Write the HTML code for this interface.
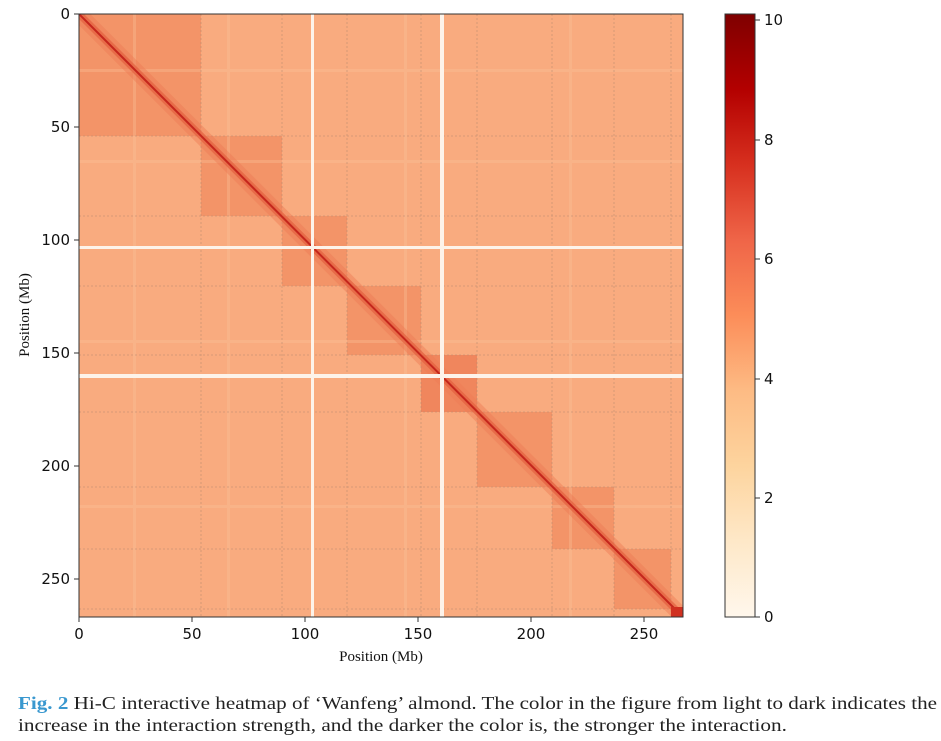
<!DOCTYPE html>
<html><head><meta charset="utf-8"><style>
html,body{margin:0;padding:0;background:#fff;}
svg{display:block;}
</style></head><body>
<svg width="941" height="741" xmlns="http://www.w3.org/2000/svg" font-family="DejaVu Sans, sans-serif">
<defs>
<linearGradient id="cb" x1="0" y1="1" x2="0" y2="0">
<stop offset="0" stop-color="#fff7ec"/>
<stop offset="0.125" stop-color="#fee8c8"/>
<stop offset="0.25" stop-color="#fdd49e"/>
<stop offset="0.375" stop-color="#fdbb84"/>
<stop offset="0.5" stop-color="#fc8d59"/>
<stop offset="0.625" stop-color="#ef6548"/>
<stop offset="0.75" stop-color="#d7301f"/>
<stop offset="0.875" stop-color="#b30000"/>
<stop offset="1" stop-color="#7f0000"/>
</linearGradient>
<clipPath id="hc"><rect x="79" y="14" width="604" height="603"/></clipPath>
</defs>
<g clip-path="url(#hc)">
<rect x="79" y="14" width="604" height="603" fill="#f9ab7f"/>
<rect x="79" y="14" width="122" height="122" fill="#f39468"/>
<rect x="201" y="136" width="81" height="80" fill="#f39468"/>
<rect x="282" y="216" width="65" height="70" fill="#f39468"/>
<rect x="347" y="286" width="74" height="69" fill="#f39468"/>
<rect x="421" y="355" width="56" height="57" fill="#f0865d"/>
<rect x="477" y="412" width="75" height="75" fill="#f39468"/>
<rect x="552" y="487" width="62" height="62" fill="#f39468"/>
<rect x="614" y="549" width="57" height="60" fill="#f39468"/>
<g fill="#fbc49a" opacity="0.35">
<rect x="133" y="14" width="3" height="603"/><rect x="79" y="69" width="604" height="3"/>
<rect x="227" y="14" width="3" height="603"/><rect x="79" y="160" width="604" height="3"/>
<rect x="404" y="14" width="3" height="603"/><rect x="79" y="340" width="604" height="3"/>
<rect x="569" y="14" width="3" height="603"/><rect x="79" y="505" width="604" height="3"/>
</g>
<g stroke="#b98a70" stroke-width="0.8" stroke-dasharray="2,2" opacity="0.7">
<line x1="201" y1="14" x2="201" y2="617"/><line x1="282" y1="14" x2="282" y2="617"/>
<line x1="347" y1="14" x2="347" y2="617"/><line x1="421" y1="14" x2="421" y2="617"/>
<line x1="477" y1="14" x2="477" y2="617"/><line x1="552" y1="14" x2="552" y2="617"/>
<line x1="614" y1="14" x2="614" y2="617"/><line x1="671" y1="14" x2="671" y2="617"/>
<line x1="79" y1="136" x2="683" y2="136"/><line x1="79" y1="216" x2="683" y2="216"/>
<line x1="79" y1="286" x2="683" y2="286"/><line x1="79" y1="355" x2="683" y2="355"/>
<line x1="79" y1="412" x2="683" y2="412"/><line x1="79" y1="487" x2="683" y2="487"/>
<line x1="79" y1="549" x2="683" y2="549"/><line x1="79" y1="609" x2="683" y2="609"/>
</g>
<line x1="79" y1="14" x2="683" y2="617" stroke="#ee7b55" stroke-width="16" opacity="0.45"/>
<line x1="79" y1="14" x2="683" y2="617" stroke="#e4603f" stroke-width="7" opacity="0.7"/>
<line x1="79" y1="14" x2="683" y2="617" stroke="#c4261c" stroke-width="2"/>
<rect x="671" y="607" width="12" height="10" fill="#d03020"/>
<rect x="311" y="14" width="3" height="603" fill="#fdf3ea"/>
<rect x="440" y="14" width="4" height="603" fill="#fdf3ea"/>
<rect x="79" y="246" width="604" height="3" fill="#fdf3ea"/>
<rect x="79" y="374" width="604" height="4" fill="#fdf3ea"/>
</g>
<rect x="79" y="14" width="604" height="603" fill="none" stroke="#333" stroke-width="1"/>
<g stroke="#333" stroke-width="1">
<line x1="79" y1="617" x2="79" y2="622"/><line x1="192" y1="617" x2="192" y2="622"/>
<line x1="305" y1="617" x2="305" y2="622"/><line x1="418" y1="617" x2="418" y2="622"/>
<line x1="531" y1="617" x2="531" y2="622"/><line x1="644" y1="617" x2="644" y2="622"/>
<line x1="74" y1="14" x2="79" y2="14"/><line x1="74" y1="127" x2="79" y2="127"/>
<line x1="74" y1="240" x2="79" y2="240"/><line x1="74" y1="353" x2="79" y2="353"/>
<line x1="74" y1="466" x2="79" y2="466"/><line x1="74" y1="579" x2="79" y2="579"/>
</g>
<g font-size="15" fill="#111" text-anchor="middle">
<text x="79" y="639">0</text><text x="192" y="639">50</text><text x="305" y="639">100</text>
<text x="418" y="639">150</text><text x="531" y="639">200</text><text x="644" y="639">250</text>
</g>
<g font-size="15" fill="#111" text-anchor="end">
<text x="70" y="19">0</text><text x="70" y="132">50</text><text x="70" y="245">100</text>
<text x="70" y="358">150</text><text x="70" y="471">200</text><text x="70" y="584">250</text>
</g>
<text x="381" y="661" font-size="15" text-anchor="middle" font-family="Liberation Serif, serif" fill="#111">Position (Mb)</text>
<text transform="translate(29,315) rotate(-90)" font-size="15" text-anchor="middle" font-family="Liberation Serif, serif" fill="#111">Position (Mb)</text>
<rect x="725" y="14" width="30" height="603" fill="url(#cb)" stroke="#333" stroke-width="1"/>
<g stroke="#333"><line x1="755" y1="617" x2="760" y2="617"/><line x1="755" y1="498" x2="760" y2="498"/>
<line x1="755" y1="379" x2="760" y2="379"/><line x1="755" y1="259" x2="760" y2="259"/>
<line x1="755" y1="140" x2="760" y2="140"/><line x1="755" y1="20" x2="760" y2="20"/></g>
<g font-size="15" fill="#111">
<text x="764" y="622">0</text><text x="764" y="503">2</text><text x="764" y="384">4</text>
<text x="764" y="264">6</text><text x="764" y="145">8</text><text x="764" y="25">10</text>
</g>
<g font-family="Liberation Serif, serif" font-size="18" fill="#222">
<text x="18" y="709" textLength="919" lengthAdjust="spacingAndGlyphs"><tspan fill="#3a98cf" font-weight="bold">Fig. 2</tspan>  Hi-C interactive heatmap of ‘Wanfeng’ almond. The color in the figure from light to dark indicates the</text>
<text x="18" y="731" textLength="769" lengthAdjust="spacingAndGlyphs">increase in the interaction strength, and the darker the color is, the stronger the interaction.</text>
</g>
</svg>
</body></html>
